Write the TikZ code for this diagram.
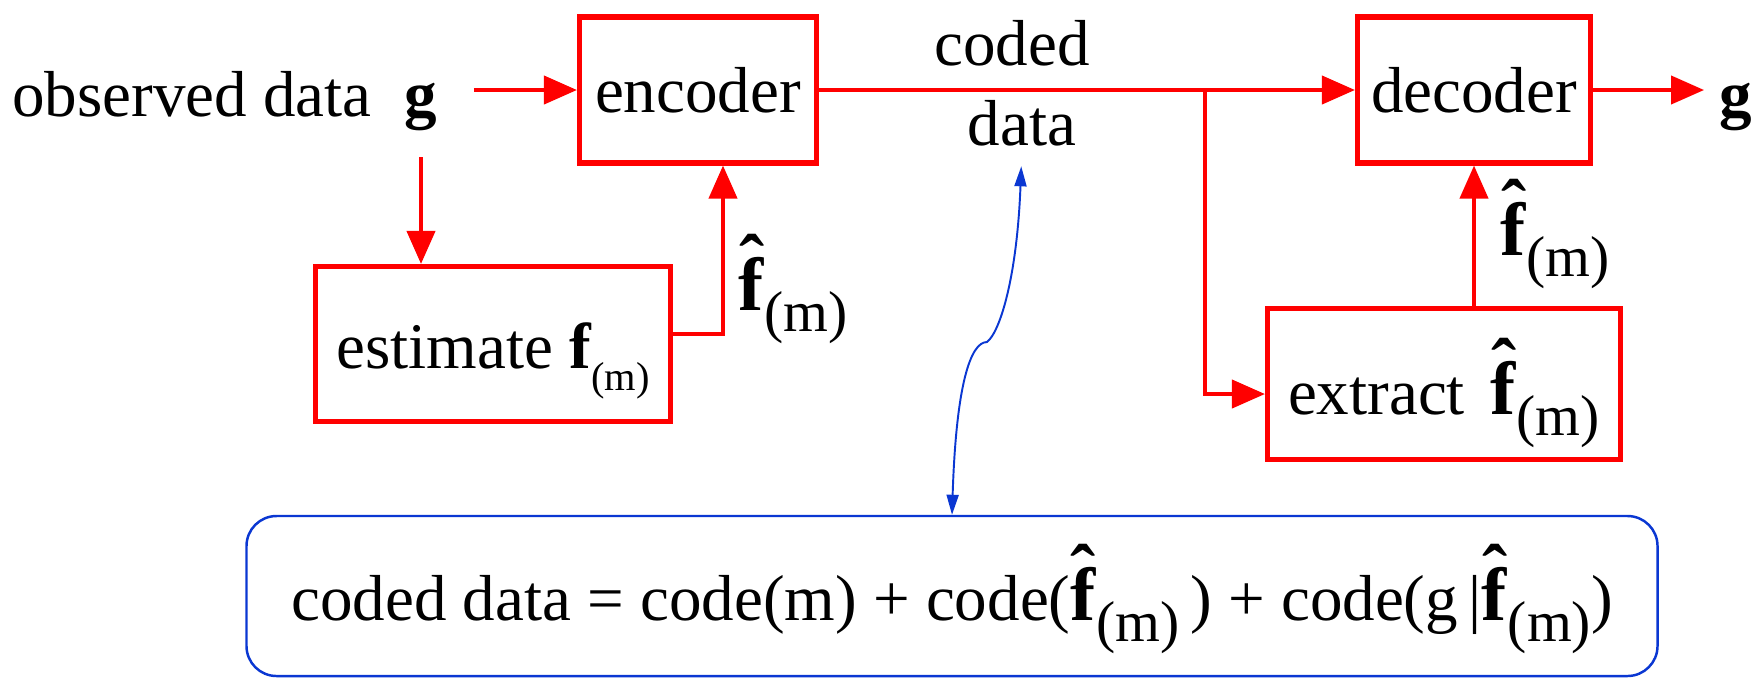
\documentclass[tikz,border=0pt]{standalone}
\usepackage{fontspec}
\setmainfont{Liberation Serif}
\usetikzlibrary{arrows.meta,calc}
\usetikzlibrary{positioning}
\definecolor{sigred}{RGB}{255,0,0}
\definecolor{noteblue}{RGB}{10,55,210}
\tikzstyle{block} = [rectangle, minimum height=1.46cm, text centered, draw=sigred, line width=1.45pt, font=\fontsize{18.5}{22}\selectfont]
\tikzstyle{lbl} = [inner sep=0pt, font=\fontsize{18.5}{22}\selectfont]
\tikzstyle{flow} = [draw=sigred, line width=1.15pt, -{Triangle[length=0.33cm,width=0.28cm]}]
\tikzstyle{note} = [draw=noteblue, line width=0.55pt, {Triangle[length=0.2cm,width=0.12cm]}-{Triangle[length=0.2cm,width=0.12cm]}]
% bold f with a circumflex set above it
\newcommand{\fhat}{\ooalign{\textbf{f}\cr\hidewidth\raisebox{0.3em}{\bfseries\symbol{"02C6}}\hidewidth\cr}}
% subscript (m): size, drop below the baseline
\newcommand{\subm}[2]{\raisebox{-#2}{\fontsize{#1}{#1}\selectfont (m)}}
\newcommand{\fhm}{{\fontsize{21.5}{24}\selectfont\fhat}\subm{16.4}{0.21cm}}

\begin{document}
\begin{tikzpicture}
  \useasboundingbox (0,0) rectangle (17.59,6.77);

  % input side
  \node (obs) [lbl, anchor=base] at (1.92,5.61) {observed data};
  \node (g) [lbl, anchor=base, font=\fontsize{18.5}{22}\selectfont\bfseries] at (4.21,5.61) {g};
  \node (enc) [block, minimum width=2.37cm] at (6.98,5.87) {encoder};
  \node (est) [block, minimum width=3.55cm, minimum height=1.55cm, text height=0.7cm, text depth=0.22cm] at (4.93,3.33) {estimate \textbf{f}\subm{11.5}{0.22cm}};
  \node (fenc) [lbl, anchor=base west] at (7.38,3.67) {\fhm};

  % channel
  \node (coded) [lbl, anchor=base] at (10.12,6.12) {coded};
  \node (data) [lbl, anchor=base] at (10.22,5.32) {data};

  % output side
  \node (dec) [block, minimum width=2.33cm] at (14.74,5.87) {decoder};
  \node (gout) [lbl, anchor=base, font=\fontsize{18.5}{22}\selectfont\bfseries] at (17.36,5.61) {g};
  \node (ext) [block, minimum width=3.53cm, minimum height=1.51cm, text height=0.85cm, text depth=0.24cm] at (14.44,2.93) {extract\hspace{0.4em}\fhm};
  \node (fdec) [lbl, anchor=base west] at (15.00,4.22) {\fhm};

  % what the coded data holds
  \node (formula) [rectangle, rounded corners=0.3cm, draw=noteblue, line width=0.7pt, minimum width=14.11cm, minimum height=1.6cm, text height=0.8cm, text depth=0.32cm, font=\fontsize{18.5}{22}\selectfont] at (9.52,0.81)
    {coded data = code(m) + code(\fhm\,) + code(g\,|\fhm)};

  \coordinate (split) at ($(enc.east)!0.72!(dec.west)$);
  \coordinate (kink) at (9.87,3.35);

  \draw[flow, shorten <=0.36cm] (g.east |- enc.west) -- (enc.west);
  \draw[flow, shorten <=0.26cm] (g.south) -- (g.south |- est.north);
  \draw[flow] ([yshift=0.1cm]est.east) -| ([xshift=0.25cm]enc.south);
  \draw[flow] (enc.east) -- (dec.west);
  \draw[flow] (split) |- ([yshift=-0.1cm]ext.west);
  \draw[flow] (ext.north -| dec.south) -- (dec.south);
  \draw[flow, shorten >=0.15cm] (dec.east) -- (dec.east -| gout.west);

  \draw[note, shorten >=0.2cm] (formula.north) .. controls (9.56,2.9) and (9.70,3.35) .. (kink)
    .. controls (10.00,3.45) and (10.17,4.00) .. (data.south);
\end{tikzpicture}
\end{document}
